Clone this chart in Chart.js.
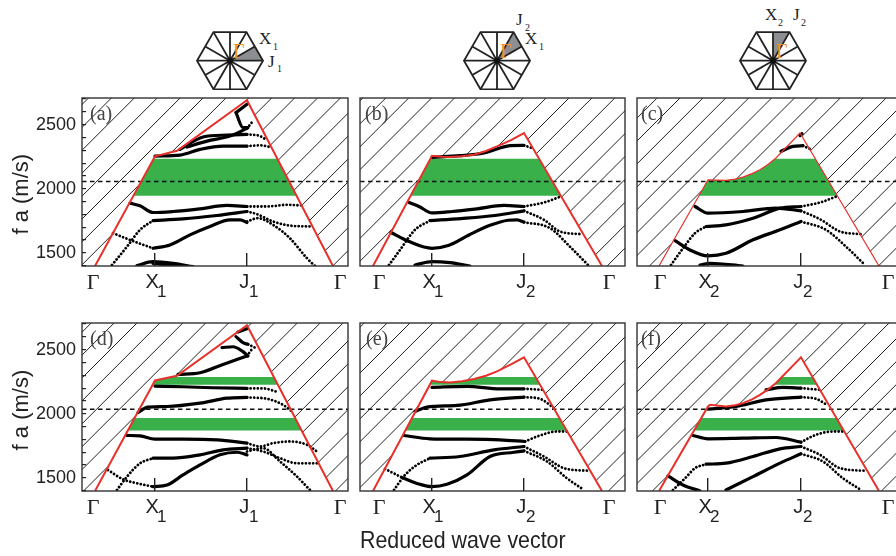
<!DOCTYPE html>
<html><head><meta charset="utf-8">
<style>
html,body{margin:0;padding:0;background:#fff;width:896px;height:556px;overflow:hidden}
canvas{position:absolute;display:block}
#icons{position:absolute;left:0;top:0}
</style>
<script src="https://cdn.jsdelivr.net/npm/chart.js@4"></script>
</head><body>
<svg id="icons" width="896" height="90" xmlns="http://www.w3.org/2000/svg"></svg>
<canvas id="pa" width="352" height="216" style="left:0;top:90px"></canvas>
<canvas id="pb" width="273" height="216" style="left:356px;top:90px"></canvas>
<canvas id="pc" width="273" height="216" style="left:633px;top:90px"></canvas>
<canvas id="pd" width="352" height="241" style="left:0;top:315px"></canvas>
<canvas id="pe" width="273" height="241" style="left:356px;top:315px"></canvas>
<canvas id="pf" width="273" height="241" style="left:633px;top:315px"></canvas>
<script>
// ---- data (k = reduced wave vector position, f a in m/s) ----
const yTickValues=[1400,1500,1600,1700,1800,1900,2000,2100,2200,2300,2400,2500,2600,2700];
const yLabelled=[1500,2000,2500];

const xTicks1=[-2,60,152,245], xTicks2=[6,59,151,236], xTicks3=[1,49,142,229];
const labelsAD=['Γ','X','J','Γ'], labelsBE=['Γ','X','J','Γ'], labelsCF=['Γ','X','J','Γ'];
const subsAD=['','1','1',''], subsBE=['','1','2',''], subsCF=['','2','2',''];

const envA=[[0,1398],[60,2253],[82,2297],[152,2690],[238,1398]];
const envB=[[0,1398],[59,2258],[68,2250],[77,2247],[89,2254],[101,2266],[113,2295],[124,2331],[138,2380],[151,2435],[229,1398]];
const envC=[[0,1398],[49,2070],[58,2068],[67,2065],[76,2075],[84,2091],[93,2118],[101,2148],[109,2190],[117,2240],[141,2435],[220,1398]];
const envD=[[0,1398],[60,2260],[82,2297],[152,2690],[238,1398]];
const envE=[[0,1398],[59,2258],[68,2247],[77,2245],[89,2254],[101,2271],[113,2297],[124,2331],[138,2385],[151,2440],[229,1398]];
const envF=[[0,1398],[49,2057],[51,2070],[67,2057],[76,2067],[84,2083],[93,2112],[101,2148],[109,2190],[117,2240],[142,2440],[220,1398]];

const gapsABC=[[1945,2234]];
const gapsDEF=[[1870,1968],[2227,2286]];
const dashTop=2057, dashBottom=2036;

const solidA=[
 [[42,1401],[58,1432],[78,1419],[98,1393]],
 [[58,1419],[82,1398]],
 [[58,1536],[75,1562],[95,1641],[115,1706],[135,1758],[145,1758],[152,1737]],
 [[58,1752],[88,1765],[122,1792],[152,1823]],
 [[35,1888],[45,1867],[58,1815],[78,1823],[105,1844],[132,1870],[152,1862]],
 [[60,2255],[85,2263],[105,2307],[128,2333],[152,2333]],
 [[85,2307],[108,2404],[132,2419],[152,2425]],
 [[92,2326],[112,2372],[135,2411],[152,2471]],
 [[141,2594],[148,2477],[153,2477]],
 [[141,2594],[152,2660]],
];
const dottedA=[
 [[152,1745],[163,1771],[178,1719],[195,1614],[212,1458],[220,1398]],
 [[18,1654],[35,1601],[58,1536]],
 [[17,1406],[32,1549],[45,1680],[58,1752]],
 [[152,1823],[162,1802],[178,1745],[195,1713],[217,1706]],
 [[152,1862],[172,1862],[192,1875],[207,1870]],
 [[152,2333],[165,2339],[175,2326]],
 [[152,2425],[165,2411],[172,2378]],
 [[152,2471],[158,2529]],
];

const solidB=[
 [[42,1406],[59,1432],[77,1424],[97,1398]],
 [[18,1659],[36,1589],[59,1536],[76,1560],[96,1640],[117,1715],[135,1755],[144,1758],[151,1740]],
 [[57,1752],[88,1768],[122,1792],[151,1828]],
 [[36,1893],[46,1862],[59,1812],[79,1823],[104,1844],[131,1870],[151,1862]],
 [[59,2245],[87,2258],[111,2279],[137,2336],[151,2339]],
];
const dottedB=[
 [[151,1740],[177,1693],[197,1549],[215,1406]],
 [[16,1406],[27,1523],[42,1680],[57,1752]],
 [[151,1828],[171,1758],[187,1667],[209,1646]],
 [[151,1862],[171,1893],[188,1940]],
 [[151,2339],[159,2318]],
];

const solidC=[
 [[41,1406],[51,1419],[84,1398]],
 [[16,1596],[31,1523],[49,1477],[67,1497],[94,1602],[121,1680],[142,1745]],
 [[47,1706],[67,1719],[94,1771],[121,1849],[142,1862]],
 [[36,1862],[49,1810],[84,1823],[117,1849],[142,1828]],
 [[122,2292],[134,2331],[144,2336]],
 [[141,2415],[143,2430]],
];
const dottedC=[
 [[142,1745],[167,1680],[187,1549],[206,1406]],
 [[12,1406],[24,1536],[36,1654],[47,1706]],
 [[142,1828],[161,1763],[181,1667],[202,1646]],
 [[142,1862],[161,1893],[179,1945]],
 [[144,2336],[151,2310]],
];

const solidD=[
 [[58,1432],[72,1445],[88,1523],[105,1601],[125,1680],[142,1700],[152,1680]],
 [[58,1654],[78,1654],[105,1680],[128,1719],[152,1732]],
 [[32,1831],[45,1828],[60,1802],[88,1802],[122,1797],[152,1771]],
 [[43,2010],[53,2052],[72,2057],[105,2083],[132,2122],[152,2128]],
 [[60,2216],[88,2211],[118,2203],[152,2198]],
 [[83,2307],[105,2320],[128,2385],[152,2451]],
 [[127,2516],[138,2523],[147,2490],[153,2451]],
 [[141,2602],[148,2555],[153,2542]],
 [[143,2638],[152,2664]],
];
const dottedD=[
 [[13,1562],[28,1489],[42,1458],[58,1432]],
 [[152,1706],[168,1732],[185,1628],[202,1510],[215,1406]],
 [[22,1406],[32,1510],[45,1614],[58,1654]],
 [[152,1732],[168,1706],[185,1654],[202,1614],[222,1614]],
 [[152,1771],[165,1745],[178,1771],[195,1784],[212,1758],[222,1706]],
 [[152,2128],[172,2117],[188,2070],[197,2018]],
 [[152,2198],[168,2198],[183,2169]],
 [[152,2451],[158,2516]],
 [[153,2542],[160,2516]],
];

const solidE=[
 [[29,1503],[47,1450],[59,1432],[74,1450],[94,1523],[117,1667],[141,1700],[151,1711]],
 [[57,1654],[87,1667],[121,1719],[151,1745]],
 [[31,1831],[57,1805],[94,1802],[127,1797],[152,1784]],
 [[42,2018],[54,2052],[84,2065],[117,2109],[151,2130]],
 [[59,2206],[94,2214],[127,2195],[151,2195]],
];
const dottedE=[
 [[12,1570],[29,1503]],
 [[151,1711],[174,1628],[194,1497],[211,1406]],
 [[21,1406],[32,1523],[44,1602],[57,1654]],
 [[151,1745],[171,1667],[191,1576],[216,1555]],
 [[152,1784],[167,1831],[184,1862],[194,1862]],
 [[151,2130],[167,2117],[181,2044]],
 [[151,2195],[171,2187]],
];

const solidF=[
 [[9,1516],[24,1445],[41,1398]],
 [[67,1406],[94,1510],[121,1615],[142,1688]],
 [[47,1607],[67,1615],[94,1667],[121,1727],[142,1745]],
 [[34,1831],[49,1805],[84,1810],[117,1815],[142,1779]],
 [[49,2036],[77,2057],[107,2109],[142,2130]],
 [[107,2187],[124,2206],[142,2200]],
];
const dottedF=[
 [[142,1688],[164,1628],[184,1497],[202,1406]],
 [[14,1406],[26,1497],[36,1576],[47,1607]],
 [[142,1745],[161,1680],[181,1576],[207,1555]],
 [[142,1779],[157,1836],[174,1862],[184,1862]],
 [[142,2130],[157,2117],[169,2065]],
 [[142,2200],[161,2187]],
];

// ---- helpers ----
const toPts=a=>a.map(p=>({x:p[0],y:p[1]}));
function bandTop(env,lo,hi){
  const out=[];
  for(let i=0;i<env.length-1;i++){
    const [x1,y1]=env[i],[x2,y2]=env[i+1];
    const ts=[0,1];
    [lo,hi].forEach(l=>{if((y1-l)*(y2-l)<0)ts.push((l-y1)/(y2-y1));});
    ts.sort((a,b)=>a-b).forEach(t=>{
      const x=x1+(x2-x1)*t,y=y1+(y2-y1)*t;
      if(y>=lo-1e-6)out.push({x,y:Math.min(y,hi)});
    });
  }
  return out;
}
const hatchPlugin={id:'hatch',beforeDatasetsDraw(c,_,o){
  const a=c.chartArea,ctx=c.ctx;ctx.save();ctx.beginPath();ctx.rect(a.left,a.top,a.right-a.left,a.bottom-a.top);ctx.clip();
  ctx.strokeStyle='#222';ctx.lineWidth=1;const h=a.bottom-a.top;
  const phase=o.phase;
  for(let x=phase-23*30;x<a.right+h+23;x+=22.9){ctx.beginPath();ctx.moveTo(x,a.top);ctx.lineTo(x-h,a.bottom);ctx.stroke();}
  ctx.restore();
}};
const framePlugin={id:'frame',afterDatasetsDraw(c,_,o){
  const a=c.chartArea,ctx=c.ctx;ctx.save();ctx.strokeStyle='#333';ctx.lineWidth=1.4;
  ctx.strokeRect(a.left,a.top,a.right-a.left,a.bottom-a.top);
  ctx.fillStyle='#444';ctx.font='20px "Liberation Serif"';ctx.textBaseline='middle';ctx.textAlign='left';
  ctx.fillText(o.tag,a.left+o.tagX,a.top+17);
  ctx.fillStyle='#222';ctx.font='17px "Liberation Sans"';
  o.subs.forEach((s,i)=>{if(s)ctx.fillText(s,c.scales.x.getPixelForValue(o.xt[i])+2,a.bottom+26);});
  ctx.restore();
}};

function panel(cfg){
  const ds=[];
  ds.push({data:toPts(cfg.env),borderWidth:0,borderColor:'transparent',backgroundColor:'#fff',fill:'start',pointRadius:0,tension:0,order:20});
  cfg.gaps.forEach(g=>{
    const top=bandTop(cfg.env,g[0],g[1]);
    ds.push({data:top,borderWidth:0,borderColor:'transparent',backgroundColor:'#39B04A',fill:'+1',pointRadius:0,tension:0,order:15});
    ds.push({data:[{x:top[0].x,y:g[0]},{x:top[top.length-1].x,y:g[0]}],borderWidth:0,borderColor:'transparent',pointRadius:0,fill:false,order:15});
  });
  ds.push({data:[{x:cfg.xMin,y:cfg.dash},{x:cfg.xMax,y:cfg.dash}],borderColor:'#111',borderWidth:1.5,borderDash:[4.5,3.5],pointRadius:0,fill:false,order:10});
  cfg.dotted.forEach(c=>ds.push({data:toPts(c),borderColor:'#000',borderWidth:2.8,borderDash:[0.01,3.6],borderCapStyle:'round',pointRadius:0,cubicInterpolationMode:'monotone',fill:false,order:5}));
  cfg.solid.forEach(c=>ds.push({data:toPts(c),borderColor:'#000',borderWidth:3.2,borderCapStyle:'round',pointRadius:0,cubicInterpolationMode:'monotone',fill:false,order:4}));
  ds.push({data:toPts(cfg.env),borderColor:'#E8302A',borderWidth:cfg.redW||2,pointRadius:0,tension:0,fill:false,order:1,borderJoinStyle:'miter'});
  const showY=!!cfg.yTitle;
  return new Chart(document.getElementById(cfg.id),{
    type:'line',data:{datasets:ds},
    plugins:[hatchPlugin,framePlugin],
    options:{responsive:false,animation:false,events:[],
      layout:{padding:{top:8,right:cfg.right||4,left:0,bottom:0}},
      plugins:{legend:{display:false},tooltip:{enabled:false},
        hatch:{phase:cfg.phase},frame:{tag:cfg.tag,tagX:cfg.tagX,subs:cfg.subs,xt:cfg.xt}},
      scales:{
        x:{type:'linear',min:cfg.xMin,max:cfg.xMax,
          afterBuildTicks:s=>{s.ticks=cfg.xt.map(v=>({value:v}));},
          afterFit:s=>{s.height=cfg.xH;s.paddingLeft=0;s.paddingRight=0;},
          grid:{drawOnChartArea:false,tickLength:-13,z:2,lineWidth:1.4,
            tickColor:c=>(c.index===0||c.index===3)?'transparent':'#222'},
          border:{display:false},
          title:cfg.xTitle?{display:true,text:cfg.xTitle,font:{family:'"Liberation Sans"',size:24},color:'#222',padding:{top:0,bottom:0}}:{display:false},
          ticks:{autoSkip:false,maxRotation:0,minRotation:0,padding:17,color:'#222',
            font:c=>(c.index===0||c.index===3)?{family:'"Liberation Serif"',size:22}:{family:'"Liberation Sans"',size:20},
            callback:(v,i)=>(i===0||i===3)?cfg.xl[i]:cfg.xl[i]+'\u00A0'}
        },
        y:{type:'linear',min:1398,max:2708,
          afterBuildTicks:s=>{s.ticks=yTickValues.map(v=>({value:v}));},
          afterFit:s=>{s.width=cfg.yW;s.paddingTop=0;s.paddingBottom=0;},
          grid:{drawOnChartArea:false,drawTicks:showY,tickLength:-4,z:2,lineWidth:1.2,tickColor:'#222'},
          border:{display:false},
          title:showY?{display:true,text:cfg.yTitle,font:{family:'"Liberation Sans"',size:22},color:'#222',padding:{top:9,bottom:0}}:{display:false},
          ticks:{display:showY,autoSkip:false,padding:10,color:'#222',font:{family:'"Liberation Sans"',size:18},
            callback:v=>yLabelled.includes(v)?String(v):''}
        }
      }
    }
  });
}
const nb='\u00A0';
panel({id:'pa',tag:'(a)',tagX:8,phase:137.3,env:envA,gaps:gapsABC,dash:dashTop,solid:solidA,dotted:dottedA,xMin:-13,xMax:253,xt:xTicks1,xl:labelsAD,subs:subsAD,xH:40,yW:82,yTitle:'f a (m/s)'+nb.repeat(4)});
panel({id:'pb',tag:'(b)',tagX:5,phase:411.7-356,env:envB,gaps:gapsABC,dash:dashTop,solid:solidB,dotted:dottedB,xMin:-13,xMax:252,xt:xTicks2,xl:labelsBE,subs:subsBE,xH:40,yW:4});
panel({id:'pc',tag:'(c)',tagX:4,phase:683-633,env:envC,gaps:gapsABC,dash:dashTop,solid:solidC,dotted:dottedC,xMin:-22,xMax:243,xt:xTicks3,xl:labelsCF,subs:subsCF,xH:40,yW:4,redW:1.2});
panel({id:'pd',tag:'(d)',tagX:8,phase:140,env:envD,gaps:gapsDEF,dash:dashBottom,solid:solidD,dotted:dottedD,xMin:-13,xMax:253,xt:xTicks1,xl:labelsAD,subs:subsAD,xH:65,yW:82,yTitle:'f a (m/s)'+nb});
panel({id:'pe',tag:'(e)',tagX:6,phase:413-356,env:envE,gaps:gapsDEF,dash:dashBottom,solid:solidE,dotted:dottedE,xMin:-13,xMax:252,xt:xTicks2,xl:labelsBE,subs:subsBE,xH:65,yW:4,xTitle:'Reduced wave vector'+nb.repeat(10)});
panel({id:'pf',tag:'(f)',tagX:4,phase:686-633,env:envF,gaps:gapsDEF,dash:dashBottom,solid:solidF,dotted:dottedF,xMin:-22,xMax:243,xt:xTicks3,xl:labelsCF,subs:subsCF,xH:65,yW:4});

// ---- Brillouin-zone icons ----
function hexIcon(cx,cy,r,gray,texts){
  const h=r*Math.sqrt(3)/2, V=[[r,0],[r/2,-h],[-r/2,-h],[-r,0],[-r/2,h],[r/2,h]];
  const M=V.map((v,i)=>{const w=V[(i+1)%6];return[(v[0]+w[0])/2,(v[1]+w[1])/2];});
  let s=`<g transform="translate(${cx},${cy})" fill="none" stroke="#222" stroke-width="1.8">`;
  const g=gray.map(p=>{const q=p[0]==='v'?V[p[1]]:M[p[1]];return q[0]+','+q[1];}).join(' ');
  s+=`<polygon points="0,0 ${g}" fill="#8C8E91" stroke="none"/>`;
  s+=`<polygon points="${V.map(v=>v.join(',')).join(' ')}"/>`;
  V.concat(M).forEach(p=>{s+=`<line x1="0" y1="0" x2="${p[0]}" y2="${p[1]}"/>`;});
  s+=`<circle r="3" fill="#111" stroke="none"/></g>`;
  s+=`<text x="${cx+3}" y="${cy-3}" font-family="Liberation Serif" font-size="20" fill="#F7941D">Γ</text>`;
  texts.forEach(t=>{s+=`<text x="${t[1]}" y="${t[2]}" font-family="Liberation Serif" font-size="${t[3]}" fill="#222">${t[0]}</text>`;});
  return s;
}
document.getElementById('icons').innerHTML=
 hexIcon(230,60.7,33,[['v',0],['m',0]],[['X',259,44,17],['1',273,50,10],['J',268,67,17],['1',277,72,10]])+
 hexIcon(497,60.7,33,[['m',0],['v',1]],[['J',516,25,17],['2',525,31,10],['X',525,44,17],['1',539,50,10]])+
 hexIcon(773,60.7,33,[['m',1],['v',1]],[['X',765,20,17],['2',778,26,10],['J',793,20,17],['2',801,26,10]]);
</script>
</body></html>
